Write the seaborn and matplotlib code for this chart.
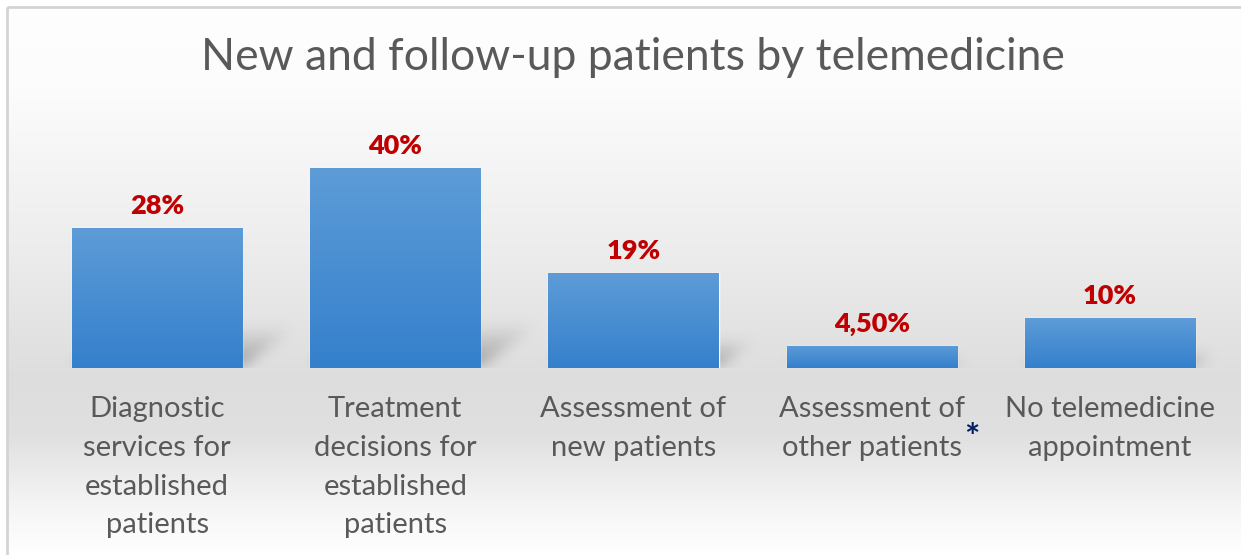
import matplotlib
matplotlib.use("Agg")
import matplotlib.pyplot as plt
import seaborn as sns
import pandas as pd
import numpy as np
from matplotlib.patches import Rectangle

categories = [
    "Diagnostic\nservices for\nestablished\npatients",
    "Treatment\ndecisions for\nestablished\npatients",
    "Assessment of\nnew patients",
    "Assessment of\nother patients",
    "No telemedicine\nappointment",
]
values = [28, 40, 19, 4.5, 10]
value_labels = ["28%", "40%", "19%", "4,50%", "10%"]
title = "New and follow-up patients by telemedicine"

W, H = 1241, 555
FONT = "Lato"

sns.set_theme(style="white")
plt.rcParams["font.family"] = [FONT, "DejaVu Sans"]

df = pd.DataFrame({"category": categories, "value": values})

fig = plt.figure(figsize=(W / 100, H / 100), dpi=100)
fig.patch.set_facecolor("white")

# background: vertical grey gradient inside a thin border
bg = fig.add_axes([0, 0, 1, 1], zorder=-10)
bg.set_xlim(0, W)
bg.set_ylim(H, 0)
bg.axis("off")
stops_y = np.array([0, 0.15, 0.45, 0.68, 0.78, 0.92, 1.0])
stops_v = np.array([254, 252, 236, 221, 224, 246, 255]) / 255
yy = np.linspace(0, 1, 400)
grad = np.interp(yy, stops_y, stops_v)[:, None] * np.ones((1, 4))
bg.imshow(np.dstack([grad] * 3), extent=(8, W + 5, H, 8), aspect="auto",
          interpolation="bilinear")
bg.add_patch(Rectangle((7, 7), W, H, fill=False, edgecolor="#d4d4d4", lw=2))

# plot area, mapped so 1% = 5 px and baseline sits at y=368
ax_left, ax_right = 38, 1229
base_px, top_px = 368, 148
ax = fig.add_axes([ax_left / W, (H - base_px) / H, (ax_right - ax_left) / W,
                   (base_px - top_px) / H])
ax.set_facecolor("none")
sns.barplot(data=df, x="category", y="value", color="#4a8ed3", width=0.714,
            saturation=1, ax=ax, zorder=3)
ax.set_xlim(-0.5, 4.5)
ax.set_ylim(0, 44)

# soft perspective shadows behind each bar
nx, ny = 1191, 260
ext_top = 52
px_per_x = nx / 5.0
px_per_y = ny / ext_top
mask = np.zeros((ny, nx))
ys = np.arange(ny)[:, None]
xs = np.arange(nx)[None, :]
for i, v in enumerate(values):
    left = (i - 0.357 + 0.5) * px_per_x
    right = (i + 0.357 + 0.5) * px_per_x
    hs = min(v * px_per_y * 0.3, 45)
    k = 1.3
    m = (ys <= hs) & (xs >= left + ys * k) & (xs <= right + ys * k)
    fade = np.clip(1 - ys / max(hs, 1), 0, 1)
    mask = np.maximum(mask, m * fade)
kern = np.ones(15) / 15
for _ in range(2):
    mask = np.apply_along_axis(lambda r: np.convolve(r, kern, mode="same"), 1, mask)
    mask = np.apply_along_axis(lambda c: np.convolve(c, kern, mode="same"), 0, mask)
shadow = np.zeros((ny, nx, 4))
shadow[..., :3] = 0.38
shadow[..., 3] = mask * 0.5
ax.imshow(shadow, extent=(-0.5, 4.5, 0, ext_top), origin="lower", aspect="auto",
          zorder=1, interpolation="bilinear")
ax.set_xlim(-0.5, 4.5)
ax.set_ylim(0, 44)

# gradient fill on the bars
grad_bar = np.linspace(0, 1, 100)[:, None]
cmap = matplotlib.colors.LinearSegmentedColormap.from_list("bar", ["#3580cc", "#5d9cd7"])
for p in ax.patches:
    x0, y0 = p.get_x(), p.get_y()
    w, h = p.get_width(), p.get_height()
    im = ax.imshow(grad_bar, extent=(x0, x0 + w, y0, y0 + h), origin="lower",
                   cmap=cmap, aspect="auto", zorder=4)
    im.set_clip_path(p)
ax.set_xlim(-0.5, 4.5)
ax.set_ylim(0, 44)

for i, (v, lab) in enumerate(zip(values, value_labels)):
    ax.annotate(lab, (i, v), xytext=(0, 7), textcoords="offset points",
                ha="center", va="bottom", fontsize=19.5, fontweight="heavy",
                color="#c00000", zorder=5)

ax.set_xlabel("")
ax.set_ylabel("")
ax.set_yticks([])
ax.tick_params(axis="x", length=0, pad=20.5, labelsize=21, labelcolor="#595959")
for t in ax.get_xticklabels():
    t.set_linespacing(1.6)
sns.despine(ax=ax, left=True, bottom=True)

fig.text(972 / W, 1 - 439 / H, "*", fontsize=26, fontweight="bold",
         color="#002060", ha="center", va="center")

fig.text(633 / W, 1 - 57 / H, title, fontsize=32, color="#595959",
         ha="center", va="center")

fig.savefig("out.png", dpi=100)
